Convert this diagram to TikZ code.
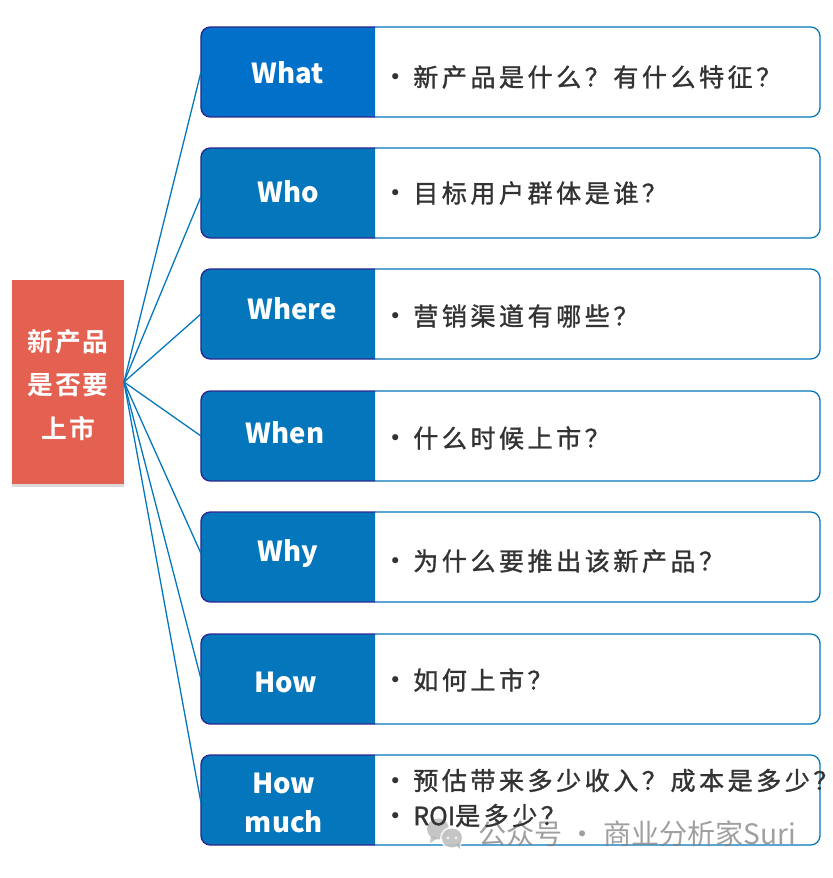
\documentclass[tikz,border=0pt]{standalone}
\usepackage{fontspec}
\usetikzlibrary{backgrounds,shadows}

\setmainfont{Noto Sans CJK SC}
\newfontfamily\bodyfont[LetterSpace=14,FakeBold=1.2]{Noto Sans CJK SC}
\newfontfamily\topicfont[LetterSpace=8]{Noto Sans CJK SC Bold}
\newfontfamily\dotfont{DejaVu Sans}

\definecolor{topicred}{HTML}{E46050}
\definecolor{headblue}{HTML}{0476BC}
\definecolor{whatblue}{HTML}{0070C8}
\definecolor{headnavy}{HTML}{2B2A8F}
\definecolor{textdark}{HTML}{333333}

\tikzset{
	topicbox/.style={fill=topicred,minimum width=3.36cm,minimum height=6.12cm,inner sep=0pt,outer sep=0pt,drop shadow={shadow xshift=0pt,shadow yshift=-2.5pt,fill=black,opacity=.15}},
	topictext/.style={text=white,align=center,inner sep=0pt,font=\topicfont\fontsize{22}{37.5}\selectfont},
	headbox/.style={minimum width=5.22cm,minimum height=2.7cm,inner sep=0pt,outer sep=0pt},
	bodybox/.style={minimum width=13.35cm,minimum height=2.7cm,inner sep=0pt,outer sep=0pt},
	headtext/.style={text=white,align=center,font=\bfseries\fontsize{23.5}{33.5}\selectfont},
	bodytext/.style={text=textdark,anchor=west,align=left,inner sep=0pt,font=\bodyfont\fontsize{21.4}{30}\selectfont},
	headline/.style={draw=headnavy,line width=1.2pt,rounded corners=8pt},
	bodyline/.style={draw=headblue,line width=1.1pt,fill=white,rounded corners=8pt},
	markcolor/.style={fill=gray!60}
}

\newcommand{\rowshape}[3]{
	\path [bodyline] (#2.north west) -- (#2.north east) -- (#2.south east) -- (#2.south west);
	\path [headline,fill=#3] (#1.north east) -- (#1.north west) -- (#1.south west) -- (#1.south east);
}
\newcommand{\dotitem}{\makebox[20.5pt][l]{\raisebox{1.5pt}{\dotfont\fontsize{18}{20}\selectfont •}}}

\begin{document}
\begin{tikzpicture}[x=.03cm,y=-.03cm]
	\useasboundingbox (0,0) rectangle (832,878);

	\node [topicbox] (topic) at (68,382) {};
	\node [topictext] (topicT) at (68,385) {新产品\\是否要\\上市};

	\node [headbox] (what) at (288,72) {};
	\node [bodybox] (whatB) at (597.5,72) {};
	\node [headbox] (who) at (288,193) {};
	\node [bodybox] (whoB) at (597.5,193) {};
	\node [headbox] (where) at (288,314) {};
	\node [bodybox] (whereB) at (597.5,314) {};
	\node [headbox] (when) at (288,436) {};
	\node [bodybox] (whenB) at (597.5,436) {};
	\node [headbox] (why) at (288,557) {};
	\node [bodybox] (whyB) at (597.5,557) {};
	\node [headbox] (how) at (288,679) {};
	\node [bodybox] (howB) at (597.5,679) {};
	\node [headbox] (much) at (288,800) {};
	\node [bodybox] (muchB) at (597.5,800) {};

	\begin{scope}[on background layer]
		\rowshape{what}{whatB}{whatblue}
		\rowshape{who}{whoB}{headblue}
		\rowshape{where}{whereB}{headblue}
		\rowshape{when}{whenB}{headblue}
		\rowshape{why}{whyB}{headblue}
		\rowshape{how}{howB}{headblue}
		\rowshape{much}{muchB}{headblue}
	\end{scope}

	\node [headtext] (whatT) at (288,73) {What};
	\node [headtext] (whoT) at (288,192) {Who};
	\node [headtext] (whereT) at (292,309) {Where};
	\node [headtext] (whenT) at (285,433) {When};
	\node [headtext] (whyT) at (288,554) {Why};
	\node [headtext] (howT) at (286,682) {How};
	\node [headtext] (muchT) at (284,803) {How\\much};

	% watermark sits under the last row's text
	\begin{scope}[opacity=.75]
		\fill [markcolor] (438,829) ellipse (11 and 10.5);
		\fill [markcolor] (431,836) -- (430,843) -- (438,838) -- cycle;
		\fill [white] (452,838) ellipse (12 and 11.5);
		\fill [markcolor] (452,838) ellipse (10 and 9.5);
		\fill [markcolor] (456,845) -- (460,849) -- (460,842) -- cycle;
		\fill [white] (448,838) circle (1.6);
		\fill [white] (456,838) circle (1.6);
		\node [text=gray,anchor=west,inner sep=0pt,font=\fontsize{24}{28}\selectfont] (mark) at (478,834) {公众号 · 商业分析家Suri};
	\end{scope}

	\node [bodytext] (whatL) at (389,77) {\dotitem 新产品是什么？有什么特征？};
	\node [bodytext] (whoL) at (389,193) {\dotitem 目标用户群体是谁？};
	\node [bodytext] (whereL) at (389,316) {\dotitem 营销渠道有哪些？};
	\node [bodytext] (whenL) at (389,438) {\dotitem 什么时候上市？};
	\node [bodytext] (whyL) at (389,561) {\dotitem 为什么要推出该新产品？};
	\node [bodytext] (howL) at (389,680) {\dotitem 如何上市？};
	\node [bodytext] (muchL) at (389,798) {\dotitem 预估带来多少收入？成本是多少？\\\dotitem {\addfontfeature{LetterSpace=0}ROI}是多少？};

	\begin{scope}[every edge/.style={draw=headblue,line width=1.1pt}]
		\path (topic.east) edge (what.west);
		\path (topic.east) edge ([yshift=-3pt]who.west);
		\path (topic.east) edge (where.west);
		\path (topic.east) edge (when.west);
		\path (topic.east) edge ([yshift=3pt]why.west);
		\path (topic.east) edge (how.west);
		\path (topic.east) edge ([yshift=-2.5pt]much.west);
	\end{scope}
\end{tikzpicture}
\end{document}
